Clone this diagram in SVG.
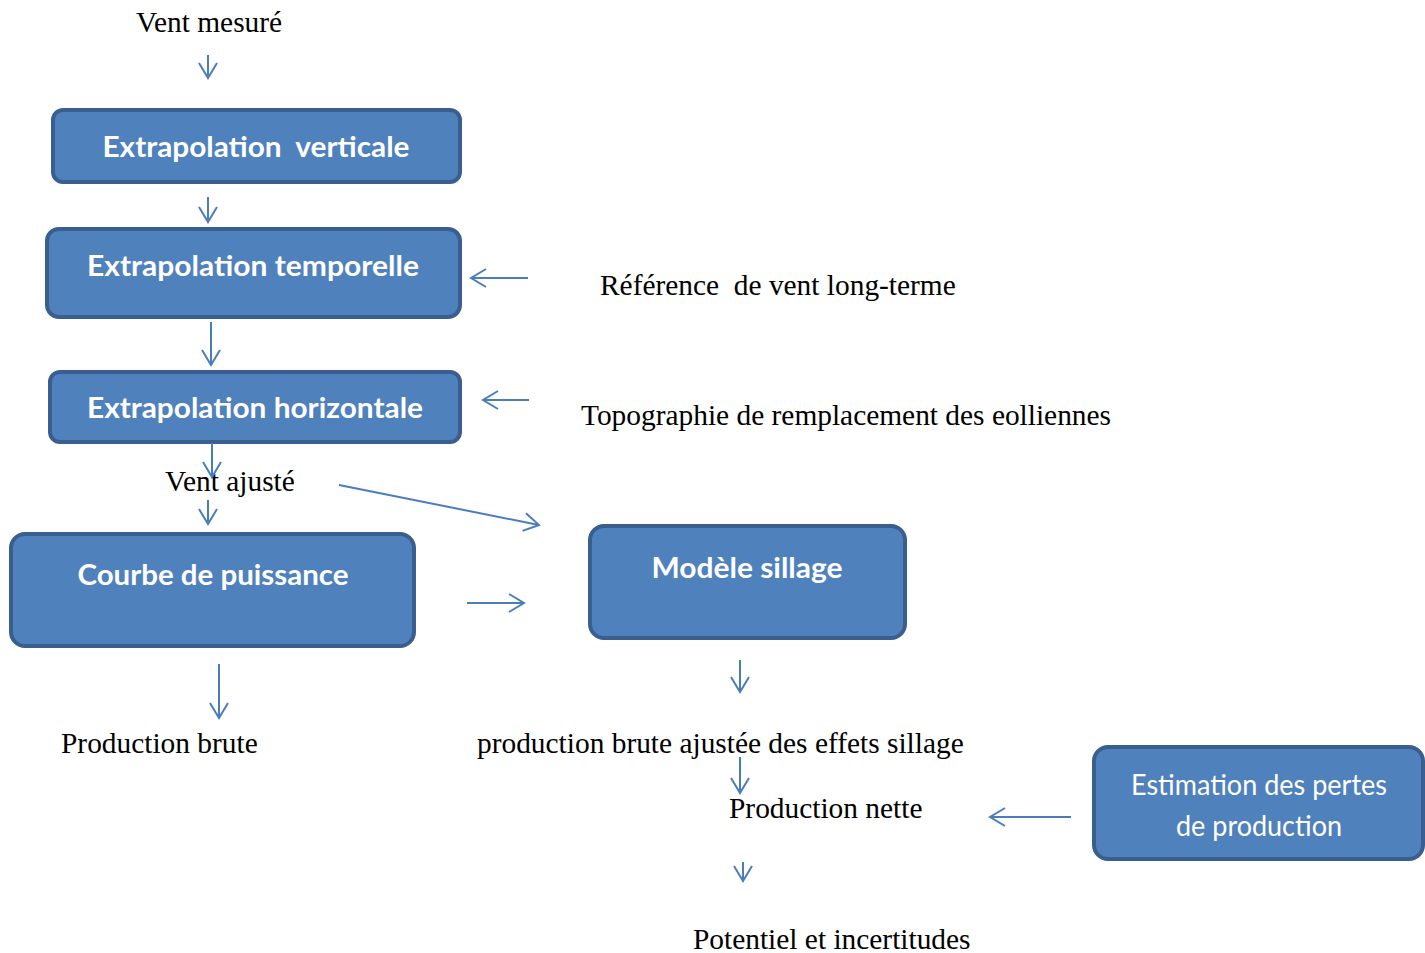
<svg xmlns="http://www.w3.org/2000/svg" width="1425" height="953" viewBox="0 0 1425 953">
<style>
.box{fill:#4F81BD;stroke:#3A5F8E;stroke-width:4}
.bt{font-family:Lato,"Open Sans",sans-serif;font-weight:bold;font-size:29px;fill:#fff;text-anchor:middle}
.bn{font-family:Lato,"Open Sans",sans-serif;font-size:28px;fill:#fff;text-anchor:middle}
.lbl{font-family:"Liberation Serif","Times New Roman",serif;font-size:29.4px;fill:#000}
.ar{stroke:#4A7EBB;stroke-width:2;fill:none;marker-end:url(#ah)}
</style>
<defs>
<marker id="ah" markerUnits="userSpaceOnUse" markerWidth="40" markerHeight="40" refX="0" refY="0" viewBox="-20 -20 40 40" orient="auto" overflow="visible">
<path d="M-15,-9 L0,0 L-15,9" fill="none" stroke="#4A7EBB" stroke-width="2"/>
</marker>
</defs>
<rect width="1425" height="953" fill="#fff"/>
<g id="n-vertical"><rect class="box" x="53" y="110" width="407" height="72" rx="10"/><text class="bt" x="256" y="157" textLength="307" lengthAdjust="spacingAndGlyphs" xml:space="preserve">Extrapolation  verticale</text></g>
<g id="n-temporelle"><rect class="box" x="47" y="229" width="413" height="88" rx="12"/><text class="bt" x="253" y="276" textLength="332" lengthAdjust="spacingAndGlyphs">Extrapolation temporelle</text></g>
<g id="n-horizontale"><rect class="box" x="50" y="372" width="410" height="70" rx="10"/><text class="bt" x="255" y="418" textLength="336" lengthAdjust="spacingAndGlyphs">Extrapolation horizontale</text></g>
<g id="n-courbe"><rect class="box" x="11" y="534" width="403" height="112" rx="14"/><text class="bt" x="213" y="585" textLength="271" lengthAdjust="spacingAndGlyphs">Courbe de puissance</text></g>
<g id="n-sillage"><rect class="box" x="590" y="526" width="315" height="112" rx="14"/><text class="bt" x="747" y="578" textLength="191" lengthAdjust="spacingAndGlyphs">Modèle sillage</text></g>
<g id="n-pertes"><rect class="box" x="1094" y="747" width="329" height="112" rx="14"/><text class="bn" x="1259" y="795" textLength="256" lengthAdjust="spacingAndGlyphs">Estimation des pertes</text><text class="bn" x="1259" y="836" textLength="166" lengthAdjust="spacingAndGlyphs">de production</text></g>
<g id="labels">
<text class="lbl" x="136" y="32">Vent mesuré</text>
<text class="lbl" x="600" y="295" xml:space="preserve">Référence  de vent long-terme</text>
<text class="lbl" x="581" y="425">Topographie de remplacement des eolliennes</text>
<text class="lbl" x="165" y="491">Vent ajusté</text>
<text class="lbl" x="61" y="753">Production brute</text>
<text class="lbl" x="477" y="753">production brute ajustée des effets sillage</text>
<text class="lbl" x="729" y="818">Production nette</text>
<text class="lbl" x="693" y="949">Potentiel et incertitudes</text>
</g>
<g id="connectors">
<line class="ar" x1="208" y1="55" x2="208" y2="78"/>
<line class="ar" x1="208" y1="197" x2="208" y2="222"/>
<line class="ar" x1="211" y1="322" x2="211" y2="365"/>
<line class="ar" x1="212" y1="443" x2="212" y2="477"/>
<line class="ar" x1="208" y1="500" x2="208" y2="524"/>
<line class="ar" x1="528" y1="278" x2="471" y2="278"/>
<line class="ar" x1="529" y1="400" x2="483" y2="400"/>
<line class="ar" x1="339" y1="485" x2="539" y2="525"/>
<line class="ar" x1="467" y1="603" x2="524" y2="603"/>
<line class="ar" x1="219" y1="664" x2="219" y2="718"/>
<line class="ar" x1="740" y1="660" x2="740" y2="692"/>
<line class="ar" x1="740" y1="757" x2="740" y2="793"/>
<line class="ar" x1="1071" y1="817" x2="990" y2="817"/>
<line class="ar" x1="743" y1="862" x2="743" y2="881"/>
</g>
</svg>
